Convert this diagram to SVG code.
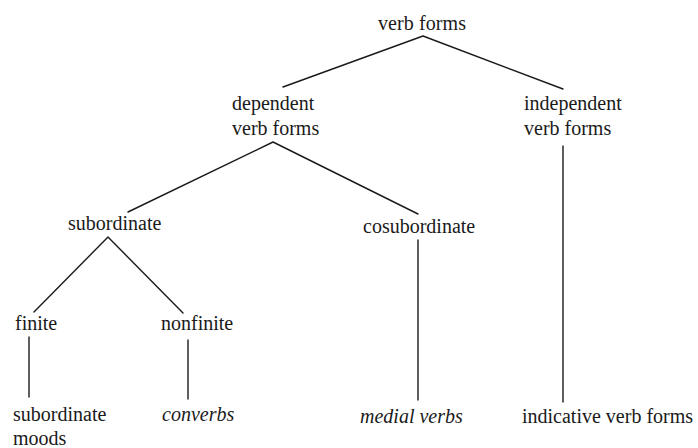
<svg xmlns="http://www.w3.org/2000/svg" width="698" height="448" viewBox="0 0 698 448">
<style>
text { font-family: 'Liberation Serif', 'DejaVu Serif', 'Times New Roman', Times, serif; font-size: 20px; fill: #1a1a1a; }
.it { font-style: italic; }
.edge { stroke: #1a1a1a; stroke-width: 1.4; fill: none; stroke-linecap: round; stroke-linejoin: round; }
</style>
<rect width="698" height="448" fill="#ffffff"/>
<g id="connectors">
  <polyline class="edge" points="283,87 423,36 563,89"/>
  <polyline class="edge" points="128,212 273,142 418,214"/>
  <line class="edge" x1="563" y1="146" x2="563" y2="402"/>
  <polyline class="edge" points="34,312 108,237 183,313"/>
  <line class="edge" x1="418" y1="240" x2="418" y2="400"/>
  <line class="edge" x1="29" y1="337" x2="29" y2="397"/>
  <line class="edge" x1="188" y1="340" x2="188" y2="399"/>
</g>
<g font-family="Liberation Serif, DejaVu Serif, serif">
<g id="verb-forms"><text x="378" y="30" textLength="88">verb forms</text></g>
<g id="dependent"><text x="232" y="110">dependent</text><text x="232" y="135">verb forms</text></g>
<g id="independent"><text x="524" y="110">independent</text><text x="524" y="135">verb forms</text></g>
<g id="subordinate"><text x="68" y="230">subordinate</text></g>
<g id="cosubordinate"><text x="363" y="233">cosubordinate</text></g>
<g id="finite"><text x="15" y="330">finite</text></g>
<g id="nonfinite"><text x="161" y="330">nonfinite</text></g>
<g id="subordinate-moods"><text x="13" y="421">subordinate</text><text x="13" y="445">moods</text></g>
<g id="converbs"><text class="it" x="162" y="421">converbs</text></g>
<g id="medial-verbs"><text class="it" x="360" y="423">medial verbs</text></g>
<g id="indicative"><text x="522" y="423">indicative verb forms</text></g>
</g>
</svg>
